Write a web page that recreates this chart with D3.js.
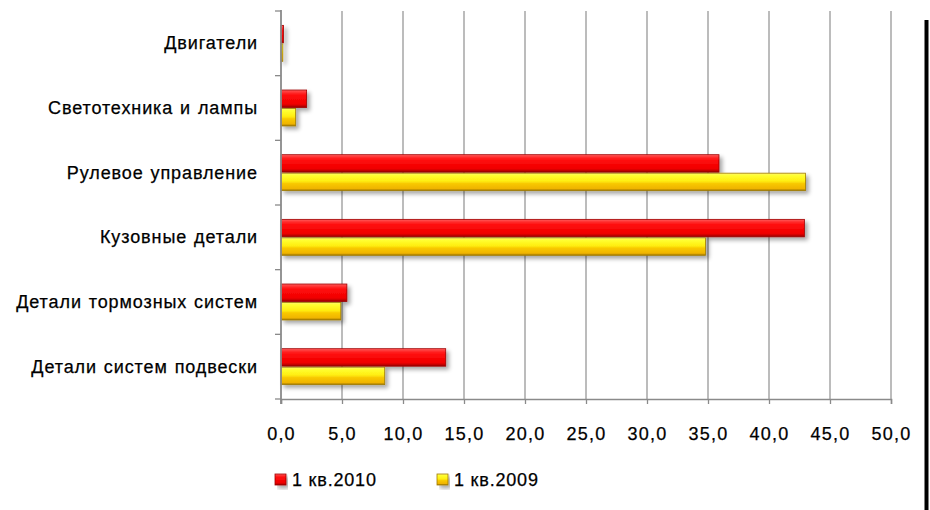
<!DOCTYPE html>
<html>
<head>
<meta charset="utf-8">
<script src="https://cdn.jsdelivr.net/npm/d3@7/dist/d3.min.js"></script>
<style>
  html, body { margin: 0; padding: 0; background: #fff; }
  svg { display: block; }
  text { font-family: "Liberation Sans", Arial, sans-serif; fill: #000; stroke: #000; stroke-width: 0.25px; }
</style>
</head>
<body>
<svg id="chart" width="930" height="510"></svg>
<script>
// ---- data (top to bottom as displayed) ----
const categories = [
  "Двигатели",
  "Светотехника и лампы",
  "Рулевое управление",
  "Кузовные детали",
  "Детали тормозных систем",
  "Детали систем подвески"
];
const seriesNames = ["1 кв.2010", "1 кв.2009"];
const values2010 = [0.2, 2.1, 35.9, 42.9, 5.4, 13.5];
const values2009 = [0.15, 1.2, 43.0, 34.8, 4.9, 8.5];
const xTicks = [0, 5, 10, 15, 20, 25, 30, 35, 40, 45, 50];

const svg = d3.select("#chart");
const W = 930, H = 510;
const plot = { left: 281, right: 891, top: 11, bottom: 399 };

// ---- defs: gradients and shadow ----
const defs = svg.append("defs");
function vGrad(id, stops) {
  const g = defs.append("linearGradient").attr("id", id)
    .attr("x1", 0).attr("y1", 0).attr("x2", 0).attr("y2", 1);
  stops.forEach(s => g.append("stop").attr("offset", s[0]).attr("stop-color", s[1]));
}
vGrad("gRed", [[0, "#ff6060"], [0.12, "#ff3535"], [0.3, "#ff0d0d"], [0.8, "#f00000"], [0.9, "#c80000"], [1, "#8c0000"]]);
vGrad("gYel", [[0, "#fff27a"], [0.12, "#ffff33"], [0.45, "#ffee10"], [0.6, "#f8c800"], [0.88, "#f0b400"], [1, "#9a7400"]]);
const f = defs.append("filter").attr("id", "shadow")
  .attr("x", "-5%").attr("y", "-20%").attr("width", "115%").attr("height", "160%");
f.append("feGaussianBlur").attr("in", "SourceAlpha").attr("stdDeviation", 2.2).attr("result", "b");
f.append("feOffset").attr("in", "b").attr("dx", 3).attr("dy", 3).attr("result", "o");
f.append("feComponentTransfer").attr("in", "o").attr("result", "o2")
  .append("feFuncA").attr("type", "linear").attr("slope", 0.35);
const fm = f.append("feMerge");
fm.append("feMergeNode").attr("in", "o2");
fm.append("feMergeNode").attr("in", "SourceGraphic");

const fills = ["url(#gRed)", "url(#gYel)"];
const strokes = ["#a00000", "#a07c00"];

// ---- scales ----
const x = d3.scaleLinear().domain([0, 50]).range([plot.left, plot.right]);
const y0 = d3.scaleBand().domain(categories).range([plot.top, plot.bottom]).padding(0);
const y1 = d3.scaleBand().domain(seriesNames).range([0, y0.bandwidth()])
  .paddingInner(0).paddingOuter(0.75);

// ---- gridlines ----
svg.append("g").selectAll("line").data(xTicks.slice(1)).join("line")
  .attr("x1", d => x(d)).attr("x2", d => x(d))
  .attr("y1", plot.top).attr("y2", plot.bottom)
  .attr("stroke", "#a0a0a0").attr("stroke-width", 1.4);

// ---- bars ----
const data = categories.map((c, i) => ({ cat: c, vals: [values2010[i], values2009[i]] }));
const gBars = svg.append("g").attr("filter", "url(#shadow)");
data.forEach(d => {
  d.vals.forEach((v, si) => {
    const bx = x(0), bw = x(v) - x(0);
    const by = y0(d.cat) + y1(seriesNames[si]), bh = y1.bandwidth();
    gBars.append("rect")
      .attr("x", bx).attr("y", by + 0.5)
      .attr("width", Math.max(bw, 0.8)).attr("height", bh - 1)
      .attr("fill", fills[si]).attr("stroke", strokes[si]).attr("stroke-width", 0.8);
  });
});

// ---- axes ----
const xAxis = d3.axisBottom(x).tickValues(xTicks).tickSize(5).tickPadding(23)
  .tickFormat(d => d3.format(".1f")(d).replace(".", ","));
const gx = svg.append("g").attr("transform", `translate(0,${plot.bottom})`).call(xAxis);
gx.select(".domain").attr("stroke", "#8a8a8a").attr("stroke-width", 1.5);
gx.selectAll(".tick line").attr("stroke", "#8a8a8a").attr("stroke-width", 1.3);
gx.selectAll(".tick text").attr("font-size", 18).attr("letter-spacing", "1.2px")
  .attr("fill", "#000").attr("font-family", "'Liberation Sans', Arial, sans-serif");

// left axis: ticks at band boundaries
const bounds = categories.map(c => y0(c)).concat([plot.bottom]);
svg.append("line").attr("x1", plot.left).attr("x2", plot.left)
  .attr("y1", plot.top - 1).attr("y2", plot.bottom + 5)
  .attr("stroke", "#8a8a8a").attr("stroke-width", 1.8);
svg.append("g").selectAll("line").data(bounds).join("line")
  .attr("x1", plot.left - 6).attr("x2", plot.left)
  .attr("y1", d => d).attr("y2", d => d)
  .attr("stroke", "#8a8a8a").attr("stroke-width", 1.3);

svg.append("g").selectAll("text").data(categories).join("text")
  .attr("x", 258).attr("y", d => y0(d) + y0.bandwidth() / 2)
  .attr("text-anchor", "end").attr("dominant-baseline", "central")
  .attr("font-size", 18).attr("letter-spacing", "0.9px").attr("word-spacing", "1px")
  .text(d => d);

// ---- legend ----
const legendX = [275, 437];
const lg = svg.append("g");
seriesNames.forEach((s, i) => {
  lg.append("rect").attr("x", legendX[i]).attr("y", 474).attr("width", 11).attr("height", 11)
    .attr("fill", fills[i]).attr("stroke", strokes[i]).attr("stroke-width", 0.8)
    .attr("filter", "url(#shadow)");
  lg.append("text").attr("x", legendX[i] + 17).attr("y", 480)
    .attr("dominant-baseline", "central").attr("font-size", 18).attr("letter-spacing", "0.8px")
    .text(s);
});

// ---- right border line ----
svg.append("line").attr("x1", 926.5).attr("x2", 926.5).attr("y1", 20).attr("y2", H)
  .attr("stroke", "#000").attr("stroke-width", 4);
</script>
</body>
</html>
